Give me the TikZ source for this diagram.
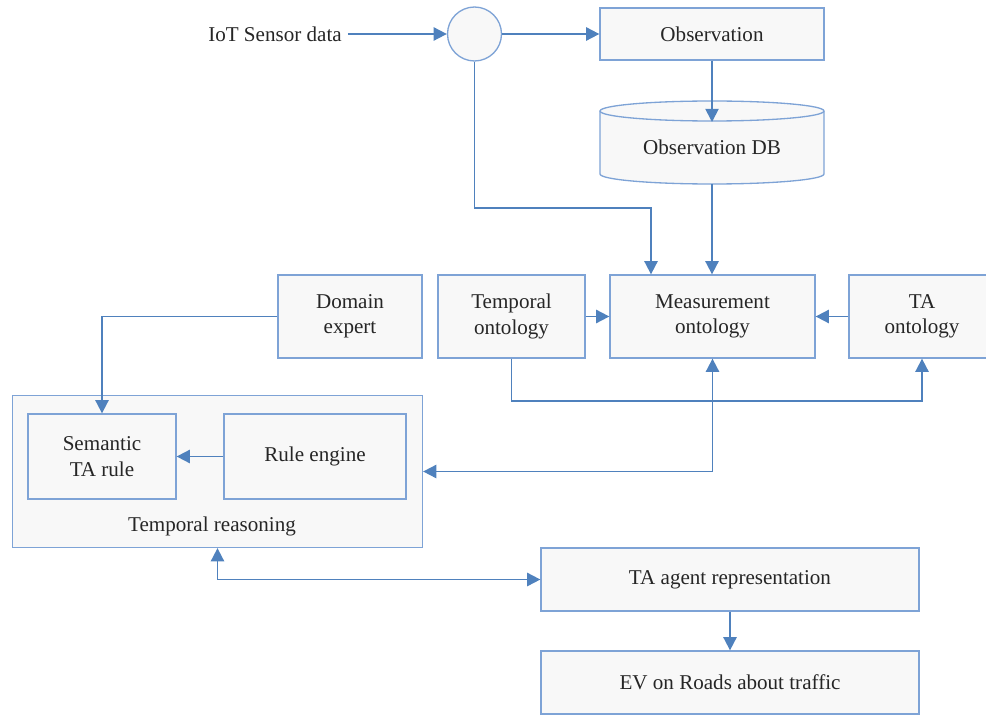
\documentclass[tikz,border=0pt]{standalone}
\usepackage{fontspec}
\setmainfont{Liberation Serif}
\usetikzlibrary{arrows.meta}
\definecolor{linkblue}{HTML}{4F81BD}
\definecolor{edgeblue}{HTML}{7EA3D6}
\definecolor{boxfill}{HTML}{F8F8F8}
\tikzstyle{box}=[rectangle, draw=edgeblue, line width=0.75pt, fill=boxfill, align=center, text=black!85, font=\fontsize{12}{14.5}\selectfont]
\tikzstyle{hubnode}=[circle, draw=edgeblue, line width=0.75pt, fill=boxfill, minimum size=1.08cm]
\tikzstyle{plain}=[align=center, text=black!85, font=\fontsize{12}{14.5}\selectfont]
\tikzstyle{link}=[draw=linkblue, line width=1.05pt, -{Triangle[length=7.5pt,width=7.5pt]}]
\tikzstyle{biglink}=[draw=linkblue, line width=1.05pt, {Triangle[length=7.5pt,width=7.5pt]}-{Triangle[length=7.5pt,width=7.5pt]}]

\begin{document}
\begin{tikzpicture}[x=0.02cm, y=-0.02cm]
\clip (0,0) rectangle (986,716);
\draw (275,34) node[plain] (iot) {IoT Sensor data};
\draw (474.5,34) node[hubnode] (hub) {};
\draw (712,34) node[box, minimum width=4.48cm, minimum height=1.04cm] (obs) {Observation};

% database drum
\draw[draw=edgeblue, line width=0.75pt, fill=boxfill] (600,111) -- (600,174) arc (180:360:2.24cm and 0.2cm) -- (824,111) arc (0:180:2.24cm and 0.2cm) -- cycle;
\draw[draw=edgeblue, line width=0.75pt] (600,111) arc (180:360:2.24cm and 0.2cm);
\draw (712,147) node[plain, minimum width=4.48cm, minimum height=1.46cm] (db) {Observation DB};

\draw (350,316.5) node[box, minimum width=2.88cm, minimum height=1.66cm] (expert) {Domain\\expert};
\draw (511.5,316.5) node[box, minimum width=2.94cm, minimum height=1.66cm] (tempont) {Temporal\\ontology};
\draw (712.5,316.5) node[box, minimum width=4.10cm, minimum height=1.66cm] (measont) {Measurement\\ontology};
\draw (922,316.5) node[box, minimum width=2.92cm, minimum height=1.66cm] (taont) {TA\\ontology};

\draw (217.5,471.5) node[box, minimum width=8.20cm, minimum height=3.04cm] (reason) {};
\draw (102,456.5) node[box, minimum width=2.96cm, minimum height=1.70cm] (semrule) {Semantic\\TA rule};
\draw (315,456.5) node[box, minimum width=3.64cm, minimum height=1.70cm] (engine) {Rule engine};
\draw (212,526) node[plain] (reasonlbl) {Temporal reasoning};

\draw (730,579.5) node[box, minimum width=7.56cm, minimum height=1.26cm] (agent) {TA agent representation};
\draw (730,682.5) node[box, minimum width=7.56cm, minimum height=1.26cm] (ev) {EV on Roads about traffic};

\coordinate (hubbend) at (651,208);
\coordinate (lowbus) at (0,401);
\coordinate (drumtop) at (712,122);

\draw[link] (iot) -- (hub);
\draw[link] (hub) -- (obs);
\draw[link] (obs.south) -- (drumtop);
\draw[link] (db.south) -- (measont.north -| db.south);
\draw[link] (hub.south) |- (hubbend) -- (hubbend |- measont.north);
\draw[link] (tempont) -- (measont);
\draw[link] (taont) -- (measont);
\draw[link] (tempont.south) |- (lowbus -| taont.south) -- (taont.south);
\draw[biglink] (measont.south) |- (reason.east);
\draw[link] (expert.west) -| (semrule.north);
\draw[link] (engine) -- (semrule);
\draw[biglink] (reason.south) |- (agent.west);
\draw[link] (agent) -- (ev);
\end{tikzpicture}
\end{document}
